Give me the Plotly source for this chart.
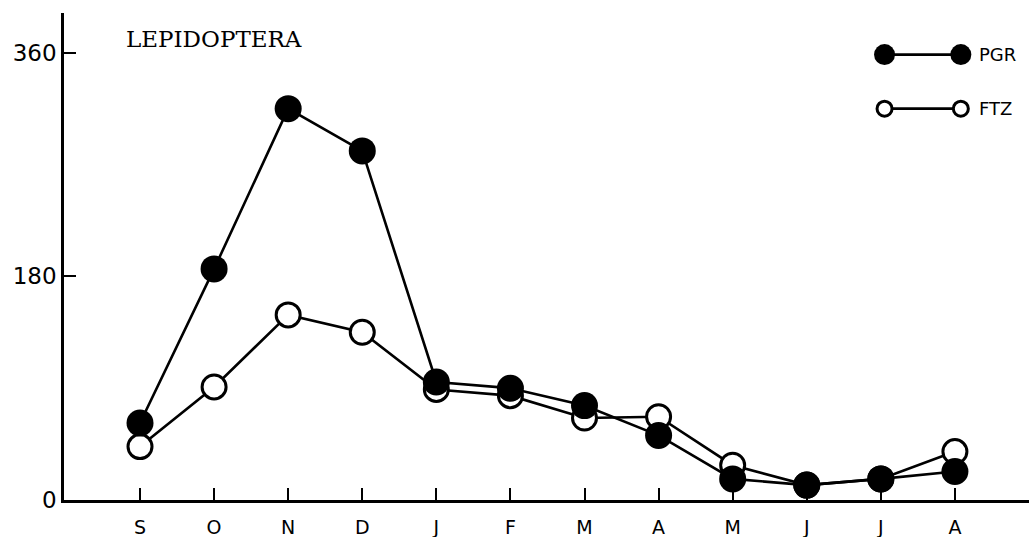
import plotly.graph_objects as go

# Monthly counts, September through August
months = ["S", "O", "N", "D", "J", "F", "M", "A", "M", "J", "J", "A"]
pgr = [62, 186, 315, 281, 95, 90, 76, 52, 17, 12, 17, 23]
ftz = [43, 91, 149, 135, 89, 84, 66, 67, 28, 12, 17, 39]
y_ticks = [0, 180, 360]

x = list(range(len(months)))
ink = "#000000"
font_sans = "DejaVu Sans"

fig = go.Figure()

# connecting lines first, so markers sit on top of both
fig.add_trace(go.Scatter(x=x, y=ftz, mode="lines",
                         line=dict(color=ink, width=2.6), showlegend=False,
                         hoverinfo="skip"))
fig.add_trace(go.Scatter(x=x, y=pgr, mode="lines",
                         line=dict(color=ink, width=2.6), showlegend=False,
                         hoverinfo="skip"))
fig.add_trace(go.Scatter(x=x, y=ftz, mode="markers", name="FTZ",
                         marker=dict(symbol="circle", size=24, color="white",
                                     line=dict(color=ink, width=3)),
                         showlegend=False, cliponaxis=False))
fig.add_trace(go.Scatter(x=x, y=pgr, mode="markers", name="PGR",
                         marker=dict(symbol="circle", size=27, color=ink,
                                     line=dict(color=ink, width=0)),
                         showlegend=False, cliponaxis=False))

# hand-drawn style key in the upper right corner
key_x = [10.05, 11.08]
fig.add_trace(go.Scatter(x=key_x, y=[358.5, 358.5], mode="lines+markers",
                         line=dict(color=ink, width=2.6),
                         marker=dict(size=21, color=ink),
                         showlegend=False, hoverinfo="skip", cliponaxis=False))
fig.add_trace(go.Scatter(x=key_x, y=[315, 315], mode="lines+markers",
                         line=dict(color=ink, width=2.6),
                         marker=dict(size=15, color="white",
                                     line=dict(color=ink, width=3)),
                         showlegend=False, hoverinfo="skip", cliponaxis=False))
fig.add_annotation(x=11.3, y=358.5, text="PGR", showarrow=False,
                   xanchor="left", yanchor="middle",
                   font=dict(family=font_sans, size=18, color=ink))
fig.add_annotation(x=11.3, y=315, text="FTZ", showarrow=False,
                   xanchor="left", yanchor="middle",
                   font=dict(family=font_sans, size=18, color=ink))

fig.add_annotation(x=-0.22, y=371, text="LEPIDOPTERA", showarrow=False,
                   xanchor="left", yanchor="middle",
                   font=dict(family="DejaVu Serif", size=23, color=ink))

fig.update_xaxes(range=[-1.026, 12.0], tickvals=x, ticktext=months,
                 showgrid=False, zeroline=False,
                 showline=True, linecolor=ink, linewidth=2.6,
                 ticks="inside", ticklen=12, tickwidth=1.5, tickcolor=ink,
                 ticklabelstandoff=8,
                 tickfont=dict(family=font_sans, size=19, color=ink))
fig.update_yaxes(range=[0, 392], tickvals=y_ticks,
                 ticktext=[str(v) for v in y_ticks],
                 showgrid=False, zeroline=False,
                 showline=True, linecolor=ink, linewidth=2.6,
                 ticks="inside", ticklen=12, tickwidth=1.8, tickcolor=ink,
                 tickfont=dict(family=font_sans, size=23, color=ink))

fig.update_layout(width=1029, height=537,
                  margin=dict(l=64, r=0, t=13, b=37),
                  plot_bgcolor="white", paper_bgcolor="white",
                  showlegend=False)

fig.write_html("out.html")
